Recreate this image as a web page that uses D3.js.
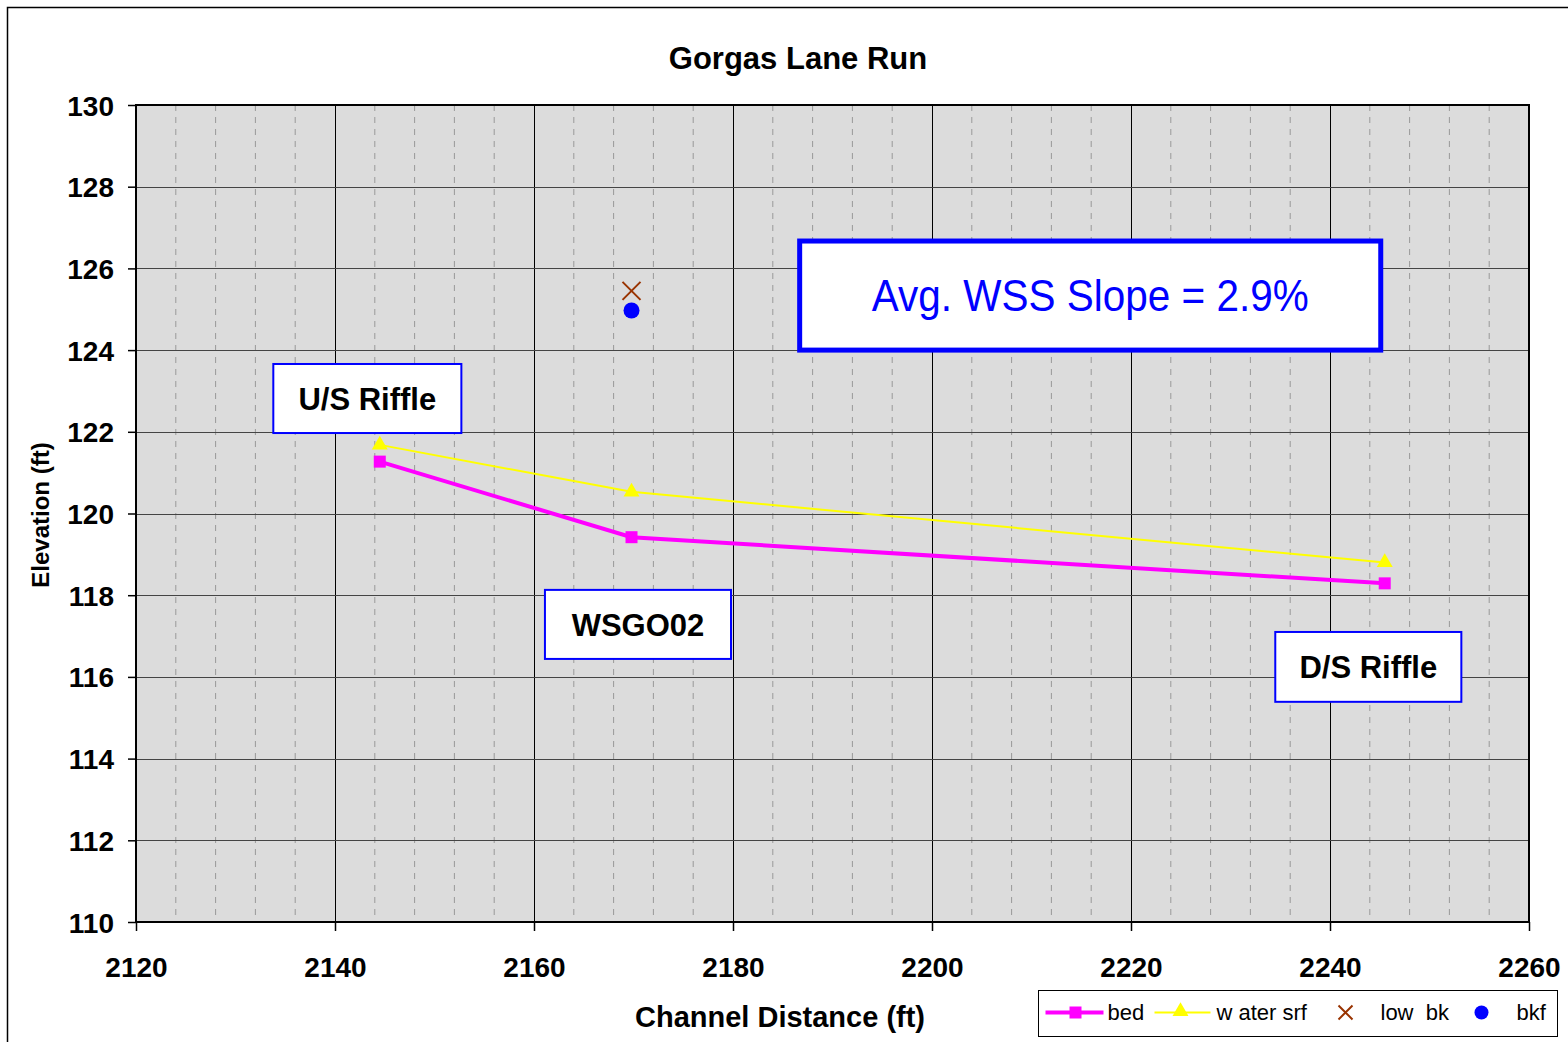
<!DOCTYPE html>
<html>
<head>
<meta charset="utf-8">
<script src="https://cdnjs.cloudflare.com/ajax/libs/d3/7.8.5/d3.min.js"></script>
<style>
  body { margin:0; background:#fff; }
  text { font-family: "Liberation Sans", Arial, sans-serif; }
</style>
</head>
<body>
<div id="canvas" class="canvas" style="width:1568px;height:1042px;"></div>
<script>
// --- data
var dist = [2144.5, 2169.8, 2245.5];
var bed = [121.27, 119.42, 118.29];
var waterSrf = [121.68, 120.53, 118.80];
var lowBkDist = [2169.8];
var lowBk = [125.45];
var bkfDist = [2169.8];
var bkf = [124.97];

var xTicks = [2120, 2140, 2160, 2180, 2200, 2220, 2240, 2260];
var xMinor = d3.range(2120, 2261, 4);
var yTicks = [110, 112, 114, 116, 118, 120, 122, 124, 126, 128, 130];

var title = 'Gorgas Lane Run';
var xTitle = 'Channel Distance (ft)';
var yTitle = 'Elevation (ft)';
var slopeNote = 'Avg. WSS Slope = 2.9%';

// --- Margin convention
var M = {top:105, right:39, bottom:120, left:136};
var outerWidth = 1568,
    outerHeight = 1042;
var w = outerWidth - M.left - M.right,
    h = outerHeight - M.top - M.bottom;

var svg = d3.select('.canvas')
    .append('svg')
    .attr('width', outerWidth)
    .attr('height', outerHeight);

// chart frame
svg.append('rect')
    .attr('x', 7.5).attr('y', 7.5)
    .attr('width', 1580).attr('height', 1060)
    .style('fill', '#fff')
    .style('stroke', '#000')
    .style('stroke-width', 1.5);

var plot = svg.append('g')
    .attr('transform', 'translate(' + M.left + ',' + M.top + ')');

var x = d3.scaleLinear().domain([2120, 2260]).range([0, w]);
var y = d3.scaleLinear().domain([110, 130]).range([h, 0]);

plot.append('rect')
    .attr('width', w).attr('height', h)
    .style('fill', '#dcdcdc');

// minor vertical grid (dashed)
plot.selectAll('.minor')
    .data(xMinor.filter(function(d){ return xTicks.indexOf(d) < 0; }))
    .enter().append('line')
    .attr('x1', function(d){ return x(d); })
    .attr('x2', function(d){ return x(d); })
    .attr('y1', 0).attr('y2', h)
    .style('stroke', '#999')
    .style('stroke-width', 1)
    .style('stroke-dasharray', '6,6');

// major grid
plot.selectAll('.vgrid')
    .data(xTicks)
    .enter().append('line')
    .attr('x1', function(d){ return Math.round(x(d)) + 0.5; })
    .attr('x2', function(d){ return Math.round(x(d)) + 0.5; })
    .attr('y1', 0).attr('y2', h)
    .style('stroke', '#000')
    .style('stroke-width', 1);

plot.selectAll('.hgrid')
    .data(yTicks)
    .enter().append('line')
    .attr('x1', 0).attr('x2', w)
    .attr('y1', function(d){ return Math.round(y(d)) + 0.5; })
    .attr('y2', function(d){ return Math.round(y(d)) + 0.5; })
    .style('stroke', '#444')
    .style('stroke-width', 1);

plot.append('rect')
    .attr('width', w).attr('height', h)
    .style('fill', 'none')
    .style('stroke', '#000')
    .style('stroke-width', 2);

// --- axes
var xAxis = plot.append('g')
    .attr('transform', 'translate(0,' + h + ')')
    .call(d3.axisBottom(x).tickValues(xTicks).tickSize(9).tickPadding(26).tickFormat(d3.format('d')));
var yAxis = plot.append('g')
    .call(d3.axisLeft(y).tickValues(yTicks).tickSize(8).tickPadding(14).tickFormat(d3.format('d')));

[xAxis, yAxis].forEach(function(a){
    a.select('.domain').remove();
    a.selectAll('line').style('stroke', '#000').style('stroke-width', 1.5);
    a.selectAll('text')
        .style('font-family', '"Liberation Sans", Arial, sans-serif')
        .style('font-size', '28px')
        .style('font-weight', 'bold')
        .style('fill', '#000');
});
xAxis.selectAll('text').attr('dy', '0.71em');
yAxis.selectAll('text').attr('dy', '0.36em');

// --- titles
svg.append('text')
    .attr('x', 798).attr('y', 69)
    .attr('text-anchor', 'middle')
    .style('font-size', '31px').style('font-weight', 'bold')
    .text(title);

svg.append('text')
    .attr('x', 780).attr('y', 1027)
    .attr('text-anchor', 'middle')
    .style('font-size', '29px').style('font-weight', 'bold')
    .text(xTitle);

svg.append('text')
    .attr('transform', 'translate(49,515) rotate(-90)')
    .attr('text-anchor', 'middle')
    .style('font-size', '24px').style('font-weight', 'bold')
    .text(yTitle);

// --- annotation boxes (anchored in data units)
function noteBox(x0, y0, x1, y1, label, size, weight, colour, stroke) {
    var g = plot.append('g');
    g.append('rect')
        .attr('x', x(x0)).attr('y', y(y0))
        .attr('width', x(x1) - x(x0)).attr('height', y(y1) - y(y0))
        .style('fill', '#fff')
        .style('stroke', '#0000ff')
        .style('stroke-width', stroke);
    g.append('text')
        .attr('x', (x(x0) + x(x1)) / 2)
        .attr('y', (y(y0) + y(y1)) / 2)
        .attr('dy', '0.36em')
        .attr('text-anchor', 'middle')
        .style('font-size', size).style('font-weight', weight)
        .style('fill', colour)
        .text(label);
    return g;
}

noteBox(2186.7, 126.67, 2245.1, 124.0, slopeNote, '44px', 'normal', '#0000ff', 5)
    .select('text').attr('textLength', 437).attr('lengthAdjust', 'spacingAndGlyphs');
noteBox(2133.8, 123.66, 2152.7, 121.97, 'U/S Riffle', '31px', 'bold', '#000', 2);
noteBox(2161.1, 118.13, 2179.8, 116.44, 'WSGO02', '31px', 'bold', '#000', 2);
noteBox(2234.5, 117.1, 2253.2, 115.39, 'D/S Riffle', '31px', 'bold', '#000', 2);

// --- series
var line = d3.line()
    .x(function(d){ return x(d[0]); })
    .y(function(d){ return y(d[1]); });

var waterPts = d3.zip(dist, waterSrf);
var bedPts = d3.zip(dist, bed);

plot.append('path')
    .attr('d', line(waterPts))
    .style('fill', 'none').style('stroke', '#ffff00').style('stroke-width', 2);

plot.selectAll('.tri')
    .data(waterPts)
    .enter().append('path')
    .attr('transform', function(d){ return 'translate(' + x(d[0]) + ',' + y(d[1]) + ')'; })
    .attr('d', d3.symbol().type(d3.symbolTriangle).size(110))
    .style('fill', '#ffff00');

plot.append('path')
    .attr('d', line(bedPts))
    .style('fill', 'none').style('stroke', '#ff00ff').style('stroke-width', 4);

plot.selectAll('.sq')
    .data(bedPts)
    .enter().append('rect')
    .attr('x', function(d){ return x(d[0]) - 6; })
    .attr('y', function(d){ return y(d[1]) - 6; })
    .attr('width', 12).attr('height', 12)
    .style('fill', '#ff00ff');

var crossPath = 'M-9,-9L9,9M-9,9L9,-9';
plot.selectAll('.cross')
    .data(d3.zip(lowBkDist, lowBk))
    .enter().append('path')
    .attr('transform', function(d){ return 'translate(' + x(d[0]) + ',' + y(d[1]) + ')'; })
    .attr('d', crossPath)
    .style('stroke', '#993300').style('stroke-width', 2);

plot.selectAll('.dot')
    .data(d3.zip(bkfDist, bkf))
    .enter().append('circle')
    .attr('cx', function(d){ return x(d[0]); })
    .attr('cy', function(d){ return y(d[1]); })
    .attr('r', 8)
    .style('fill', '#0000ff');

// --- legend
var leg = svg.append('g').attr('transform', 'translate(1038.5,990.5)');
leg.append('rect')
    .attr('width', 519).attr('height', 46)
    .style('fill', '#fff').style('stroke', '#000').style('stroke-width', 1);

var ly = 22;
leg.append('line').attr('x1', 7).attr('x2', 65).attr('y1', ly).attr('y2', ly)
    .style('stroke', '#ff00ff').style('stroke-width', 4);
leg.append('rect').attr('x', 31).attr('y', ly - 6).attr('width', 12).attr('height', 12)
    .style('fill', '#ff00ff');
leg.append('line').attr('x1', 116).attr('x2', 172).attr('y1', ly).attr('y2', ly)
    .style('stroke', '#ffff00').style('stroke-width', 2);
leg.append('path').attr('transform', 'translate(142,' + (ly - 1) + ')')
    .attr('d', d3.symbol().type(d3.symbolTriangle).size(110))
    .style('fill', '#ffff00');
leg.append('path').attr('transform', 'translate(307,' + ly + ')')
    .attr('d', 'M-7,-7L7,7M-7,7L7,-7')
    .style('stroke', '#993300').style('stroke-width', 2);
leg.append('circle').attr('cx', 443).attr('cy', ly).attr('r', 7)
    .style('fill', '#0000ff');

var legLabels = [
    {t:'bed', x:69},
    {t:'w ater srf', x:178},
    {t:'low  bk', x:342},
    {t:'bkf', x:478}
];
leg.selectAll('.lt')
    .data(legLabels)
    .enter().append('text')
    .attr('x', function(d){ return d.x; })
    .attr('y', ly)
    .attr('dy', '0.36em')
    .style('font-size', '22px')
    .style('white-space', 'pre')
    .attr('xml:space', 'preserve')
    .text(function(d){ return d.t; });
</script>
</body>
</html>
